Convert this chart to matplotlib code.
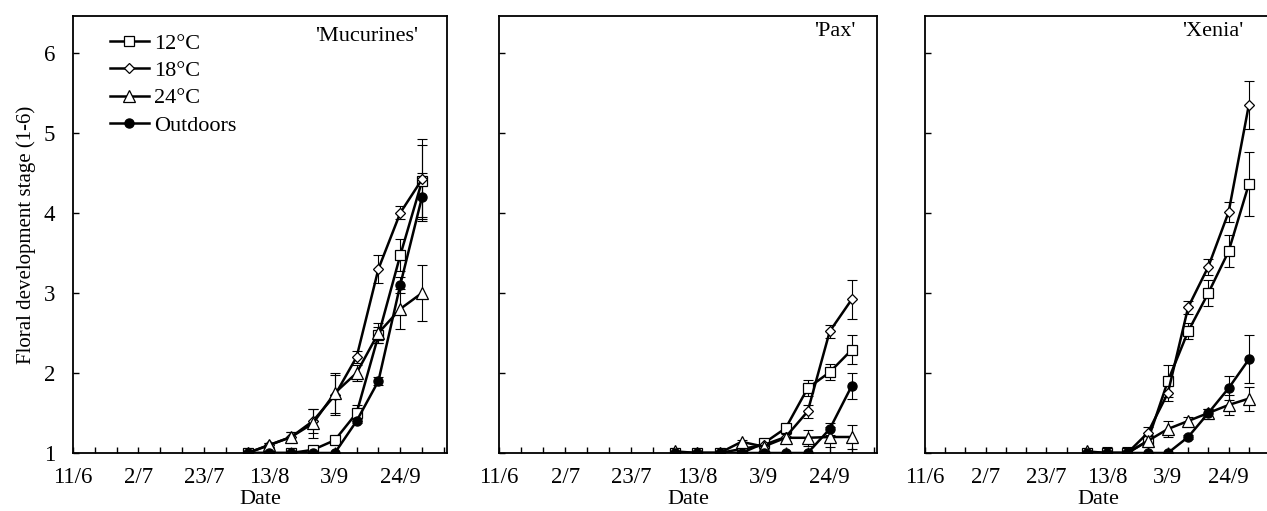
import numpy as np
import matplotlib
matplotlib.use("Agg")
import matplotlib.pyplot as plt

plt.rcParams['font.family'] = ['Liberation Serif', 'DejaVu Serif']
plt.rcParams['font.size'] = 16

# sampling dates, as days after 11 June
days = [56, 63, 70, 77, 84, 91, 98, 105, 112]
tick_days = [0, 21, 42, 63, 84, 105]
tick_labels = ['11/6', '2/7', '23/7', '13/8', '3/9', '24/9']
series_names = ['12°C', '18°C', '24°C', 'Outdoors']
cultivars = ["'Mucurines'", "'Pax'", "'Xenia'"]

# 'Mucurines'
muc_12 = [1.0, 1.0, 1.0, 1.04, 1.16, 1.5, 2.47, 3.47, 4.4]
muc_12_err = [0.05, 0, 0.03, 0.05, 0.05, 0.1, 0.1, 0.2, 0.45]
muc_18 = [1.0, 1.1, 1.2, 1.4, 1.72, 2.2, 3.3, 4.0, 4.42]
muc_18_err = [0, 0.03, 0.06, 0.15, 0.25, 0.08, 0.18, 0.08, 0.5]
muc_24 = [1.0, 1.1, 1.2, 1.37, 1.75, 2.0, 2.5, 2.8, 3.0]
muc_24_err = [0, 0.03, 0.06, 0.18, 0.25, 0.1, 0.13, 0.25, 0.35]
muc_out = [1.0, 1.0, 1.0, 1.0, 1.0, 1.4, 1.9, 3.1, 4.2]
muc_out_err = [0, 0, 0, 0, 0, 0.03, 0.05, 0.1, 0.3]

# 'Pax'
pax_12 = [1.0, 1.0, 1.0, 1.0, 1.12, 1.31, 1.81, 2.01, 2.29]
pax_12_err = [0, 0, 0, 0, 0.03, 0.05, 0.1, 0.1, 0.18]
pax_18 = [1.0, 1.0, 1.0, 1.05, 1.1, 1.2, 1.52, 2.52, 2.92]
pax_18_err = [0, 0, 0, 0.02, 0.03, 0.05, 0.08, 0.08, 0.24]
pax_24 = [1.02, 1.0, 1.0, 1.14, 1.08, 1.19, 1.19, 1.2, 1.2]
pax_24_err = [0, 0, 0, 0.02, 0.03, 0.05, 0.1, 0.12, 0.15]
pax_out = [1.0, 1.0, 1.0, 1.0, 1.0, 1.0, 1.0, 1.3, 1.84]
pax_out_err = [0, 0, 0, 0, 0, 0, 0, 0.08, 0.16]

# 'Xenia'
xen_12 = [1.0, 1.0, 1.0, 1.15, 1.9, 2.52, 3.0, 3.52, 4.36]
xen_12_err = [0, 0.08, 0.08, 0.05, 0.2, 0.1, 0.16, 0.2, 0.4]
xen_18 = [1.0, 1.0, 1.0, 1.25, 1.75, 2.82, 3.33, 4.01, 5.35]
xen_18_err = [0, 0, 0, 0.07, 0.1, 0.08, 0.1, 0.12, 0.3]
xen_24 = [1.02, 1.0, 1.0, 1.15, 1.3, 1.4, 1.5, 1.6, 1.68]
xen_24_err = [0, 0, 0, 0.07, 0.1, 0.05, 0.05, 0.12, 0.15]
xen_out = [1.0, 1.0, 1.0, 1.0, 1.0, 1.2, 1.5, 1.81, 2.17]
xen_out_err = [0, 0, 0, 0, 0, 0.03, 0.05, 0.15, 0.3]

panels = [
    ([muc_12, muc_18, muc_24, muc_out], [muc_12_err, muc_18_err, muc_24_err, muc_out_err]),
    ([pax_12, pax_18, pax_24, pax_out], [pax_12_err, pax_18_err, pax_24_err, pax_out_err]),
    ([xen_12, xen_18, xen_24, xen_out], [xen_12_err, xen_18_err, xen_24_err, xen_out_err]),
]

# marker, size, face
styles = [('s', 7.5, 'white'), ('D', 5.6, 'white'), ('^', 8.0, 'white'), ('o', 6.6, 'black')]

W, H = 1267, 511
boxes = [(73, 374), (499, 378), (925, 347)]   # left px, width px
bottom_px, top_px = 453, 16
title_pos = [(0.922, 0.954), (0.942, 0.965), (0.916, 0.965)]

fig = plt.figure(figsize=(W / 100, H / 100), dpi=100)

for k, ((vals, errs), (lpx, wpx)) in enumerate(zip(panels, boxes)):
    ax = fig.add_axes([lpx / W, (H - bottom_px) / H, wpx / W, (bottom_px - top_px) / H])
    handles = []
    for name, y, e, (m, ms, fc) in zip(series_names, vals, errs, styles):
        ax.errorbar(days, y, yerr=e, fmt='none', ecolor='black', elinewidth=0.8,
                    capsize=3.6, capthick=0.8, zorder=2)
        ln, = ax.plot(days, y, '-', color='black', lw=1.8, marker=m, ms=ms,
                      mfc=fc, mec='black', mew=0.9, label=name, zorder=3)
        handles.append(ln)

    ax.set_xlim(0, 120)
    ax.set_ylim(1, 6.46)
    ax.set_xticks(np.arange(0, 120, 7), minor=True)
    ax.set_xticks(tick_days)
    ax.set_xticklabels(tick_labels)
    ax.set_yticks([1, 2, 3, 4, 5, 6])
    ax.tick_params(axis='both', which='both', direction='in', top=False, right=False,
                   length=4, width=1, color='black', labelsize=16.5)
    ax.tick_params(axis='x', pad=10)
    ax.tick_params(axis='y', pad=13)
    if k > 0:
        ax.set_yticklabels([])
    else:
        ax.set_ylabel('Floral development stage (1-6)', labelpad=5, fontsize=15)
    ax.set_xlabel('Date', labelpad=1.5, fontsize=16)
    for sp in ax.spines.values():
        sp.set_linewidth(1.3)
    ax.text(title_pos[k][0], title_pos[k][1], cultivars[k], transform=ax.transAxes,
            ha='right', va='center', fontsize=16)

    if k == 0:
        ax.legend(handles=handles, loc='upper left', bbox_to_anchor=(0.099, 0.96),
                  frameon=False, borderpad=0, borderaxespad=0, numpoints=1,
                  handlelength=1.75, handletextpad=0.25, labelspacing=0.3,
                  fontsize=16)

fig.savefig('out.png', dpi=100)
